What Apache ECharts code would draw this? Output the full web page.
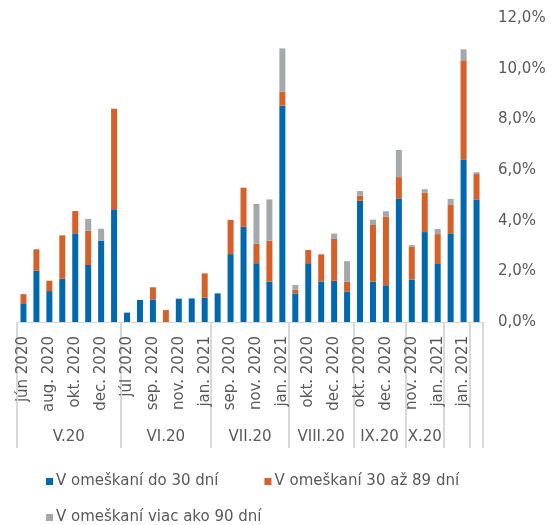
<!DOCTYPE html>
<html>
<head>
<meta charset="utf-8">
<script src="https://cdn.jsdelivr.net/npm/echarts@6/dist/echarts.min.js"></script>
<style>
  html, body { margin: 0; padding: 0; background: #fff; }
  #chart { width: 560px; height: 525px; }
</style>
</head>
<body>
<div id="chart"></div>
<script>
// vintage groups and how many months each one covers
const groups = ['V.20', 'VI.20', 'VII.20', 'VIII.20', 'IX.20', 'X.20', '', '']
const groupSizes = [8, 7, 6, 5, 4, 3, 2, 1]

const months = [
    'jún 2020', 'júl 2020', 'aug. 2020', 'sep. 2020', 'okt. 2020', 'nov. 2020', 'dec. 2020', 'jan. 2021',
    'júl 2020', 'aug. 2020', 'sep. 2020', 'okt. 2020', 'nov. 2020', 'dec. 2020', 'jan. 2021',
    'aug. 2020', 'sep. 2020', 'okt. 2020', 'nov. 2020', 'dec. 2020', 'jan. 2021',
    'sep. 2020', 'okt. 2020', 'nov. 2020', 'dec. 2020', 'jan. 2021',
    'okt. 2020', 'nov. 2020', 'dec. 2020', 'jan. 2021',
    'nov. 2020', 'dec. 2020', 'jan. 2021',
    'dec. 2020', 'jan. 2021',
    'jan. 2021'
]

const seriesNames = ['V omeškaní do 30 dní', 'V omeškaní 30 až 89 dní', 'V omeškaní viac ako 90 dní']

const upTo30 = [
    0.74, 2.03, 1.22, 1.71, 3.50, 2.25, 3.21, 4.45,
    0.37, 0.87, 0.89, 0.00, 0.92, 0.93, 0.96,
    1.13, 2.68, 3.76, 2.32, 1.59, 8.54,
    1.13, 2.32, 1.59, 1.63, 1.20,
    4.79, 1.59, 1.45, 4.88,
    1.68, 3.55, 2.29,
    3.50, 6.41,
    4.84
]
const from30to89 = [
    0.36, 0.84, 0.41, 1.71, 0.88, 1.35, 0.00, 3.97,
    0.00, 0.00, 0.48, 0.47, 0.00, 0.00, 0.96,
    0.00, 1.35, 1.54, 0.77, 1.62, 0.55,
    0.15, 0.52, 1.08, 1.67, 0.39,
    0.20, 2.24, 2.71, 0.84,
    1.29, 1.55, 1.18,
    1.12, 3.92,
    1.00
]
const over90 = [
    0.00, 0.00, 0.00, 0.00, 0.00, 0.47, 0.47, 0.00,
    0.00, 0.00, 0.00, 0.00, 0.00, 0.00, 0.00,
    0.00, 0.00, 0.00, 1.57, 1.63, 1.71,
    0.18, 0.00, 0.00, 0.19, 0.81,
    0.18, 0.21, 0.21, 1.07,
    0.07, 0.14, 0.20,
    0.24, 0.43,
    0.07
]

const colors = ['#0068ae', '#d5602a', '#a5a8aa']
const font = 'DejaVu Sans'
const textColor = '#595959'
const lineColor = '#d9d9d9'

// second axis runs on half-bar steps so group borders and centres fall on points
const halfSteps = []
for (let i = 0; i <= months.length * 2; i++) halfSteps.push(String(i))
const borders = new Set([0])
const centres = {}
let pos = 0
groupSizes.forEach((n, g) => {
    centres[pos * 2 + n] = groups[g]
    pos += n
    borders.add(pos * 2)
})

const chart = echarts.init(document.getElementById('chart'))
chart.setOption({
    animation: false,
    textStyle: { fontFamily: font },
    grid: { left: 17, right: 77, top: 18, bottom: 203 },
    legend: [
        {
            data: seriesNames.slice(0, 2),
            left: 41, top: 469,
            icon: 'rect', itemWidth: 7, itemHeight: 7, itemGap: 46,
            textStyle: { color: textColor, fontSize: 15, fontFamily: font, padding: [0, 0, 0, -2] }
        },
        {
            data: seriesNames.slice(2),
            left: 41, top: 505,
            icon: 'rect', itemWidth: 7, itemHeight: 7,
            textStyle: { color: textColor, fontSize: 15, fontFamily: font, padding: [0, 0, 0, -2] }
        }
    ],
    xAxis: [
        {
            type: 'category',
            data: months.map((m, i) => i + '|' + m),
            axisLine: { lineStyle: { color: lineColor } },
            axisTick: { show: false },
            axisLabel: {
                interval: 1,
                rotate: 90,
                margin: 14,
                color: textColor,
                fontSize: 15,
                fontFamily: font,
                formatter: v => v.split('|')[1]
            }
        },
        {
            type: 'category',
            boundaryGap: false,
            data: halfSteps,
            position: 'bottom',
            axisLine: { show: false },
            axisTick: {
                interval: (i) => borders.has(i),
                length: 126,
                lineStyle: { color: lineColor, width: 2 }
            },
            axisLabel: {
                interval: 0,
                margin: 108,
                color: textColor,
                fontSize: 15,
                fontFamily: font,
                formatter: (v, i) => centres[i] || ''
            }
        }
    ],
    yAxis: {
        type: 'value',
        position: 'right',
        min: 0,
        max: 12,
        interval: 2,
        splitLine: { show: false },
        axisLine: { show: false },
        axisTick: { show: false },
        axisLabel: {
            margin: 15,
            color: textColor,
            fontSize: 15,
            fontFamily: font,
            formatter: v => v.toFixed(1).replace('.', ',') + '%'
        }
    },
    series: [upTo30, from30to89, over90].map((d, k) => ({
        name: seriesNames[k],
        type: 'bar',
        stack: 'total',
        barWidth: 6,
        itemStyle: { color: colors[k] },
        data: d
    }))
})
</script>
</body>
</html>
